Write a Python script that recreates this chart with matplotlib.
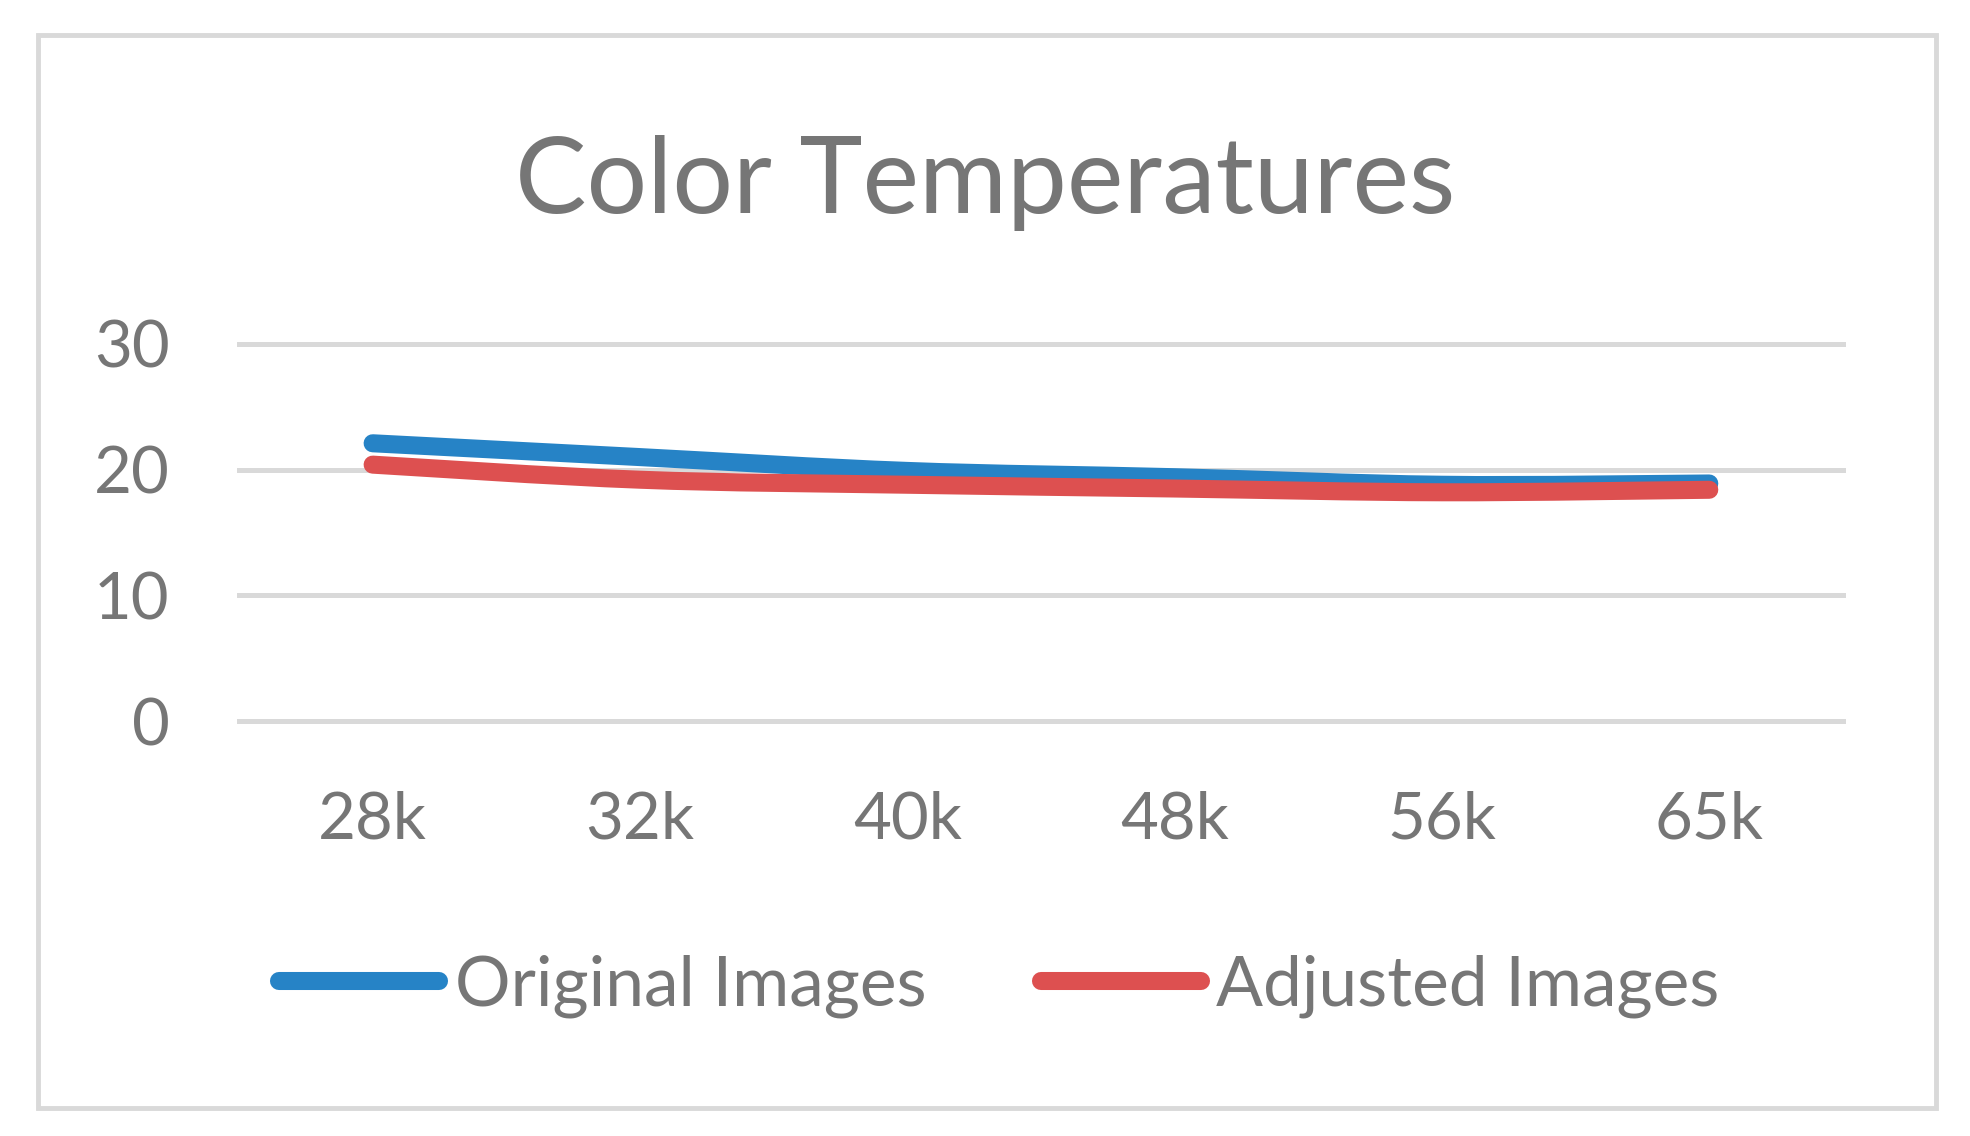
import matplotlib
matplotlib.use("Agg")
import matplotlib.pyplot as plt
from matplotlib.path import Path
from matplotlib.patches import PathPatch, Rectangle
from matplotlib.lines import Line2D

categories = ["28k", "32k", "40k", "48k", "56k", "65k"]
original_images = [22.1, 21.0, 19.9, 19.4, 18.8, 18.9]
adjusted_images = [20.4, 19.2, 18.8, 18.5, 18.2, 18.4]
y_ticks = [0, 10, 20, 30]

TEXT = "#767676"
BLUE = "#2683C6"
RED = "#DD5050"
GRID = "#D9D9D9"
FONT = "Lato"


def smooth_path(xs, ys):
    # Excel-style smoothed line: Catmull-Rom segments as cubic Bezier curves
    verts = [(xs[0], ys[0])]
    codes = [Path.MOVETO]
    n = len(xs)
    for i in range(n - 1):
        x0, y0 = (xs[i - 1], ys[i - 1]) if i > 0 else (xs[i], ys[i])
        x1, y1 = xs[i], ys[i]
        x2, y2 = xs[i + 1], ys[i + 1]
        x3, y3 = (xs[i + 2], ys[i + 2]) if i + 2 < n else (x2, y2)
        c1 = (x1 + (x2 - x0) / 6.0, y1 + (y2 - y0) / 6.0)
        c2 = (x2 - (x3 - x1) / 6.0, y2 - (y3 - y1) / 6.0)
        verts += [c1, c2, (x2, y2)]
        codes += [Path.CURVE4] * 3
    return Path(verts, codes)


fig = plt.figure(figsize=(19.7, 11.36), dpi=100)
fig.patches.append(Rectangle((38 / 1970, 1 - 1108 / 1136), 1898 / 1970, 1073 / 1136,
                             transform=fig.transFigure, fill=False,
                             edgecolor=GRID, linewidth=3.5))

ax = fig.add_axes([0.1213, 0.3653, 0.8142, 0.3319])
xs = list(range(len(categories)))
ax.set_xlim(-0.5, len(categories) - 0.5)
ax.set_ylim(0, 30)

for y in y_ticks:
    ax.axhline(y, color=GRID, linewidth=3.6, zorder=1, clip_on=False)

for vals, col in [(original_images, BLUE), (adjusted_images, RED)]:
    patch = PathPatch(smooth_path(xs, vals), facecolor="none", edgecolor=col,
                      linewidth=13, capstyle="round", joinstyle="round",
                      zorder=3, clip_on=False)
    ax.add_patch(patch)

for s in ax.spines.values():
    s.set_visible(False)
ax.set_xticks(xs)
ax.set_xticklabels(categories)
ax.set_yticks(y_ticks)
ax.tick_params(length=0, colors=TEXT, labelsize=47)
ax.tick_params(axis="y", pad=50)
ax.tick_params(axis="x", pad=50)
for lab in ax.get_xticklabels() + ax.get_yticklabels():
    lab.set_fontfamily(FONT)

fig.text(0.5, 1 - 213 / 1136, "Color Temperatures", ha="center", va="baseline",
         fontsize=77, color=TEXT, fontfamily=FONT)

handles = [Line2D([], [], color=BLUE, linewidth=13, solid_capstyle="round"),
           Line2D([], [], color=RED, linewidth=13, solid_capstyle="round")]
fig.legend(handles, ["Original Images", "Adjusted Images"], ncol=2,
           loc="center", bbox_to_anchor=(0.5073, 1 - 986 / 1136), frameon=False,
           prop={"family": FONT, "size": 50}, labelcolor=TEXT,
           handlelength=2.3, handletextpad=0.23, columnspacing=1.65)

fig.savefig("out.png", dpi=100, facecolor="white")
